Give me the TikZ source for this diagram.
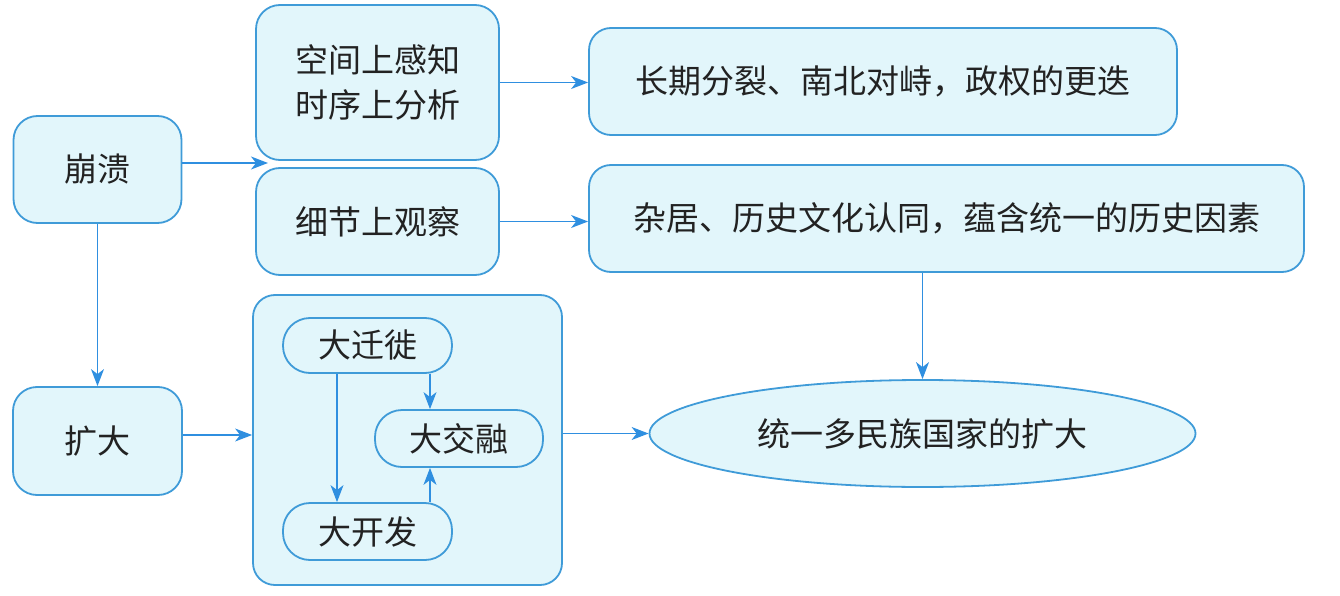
\documentclass[tikz,border=0pt]{standalone}
\usepackage{fontspec}
\setmainfont{Noto Sans CJK SC}
\usetikzlibrary{arrows.meta,shapes.geometric,calc}
\definecolor{bord}{HTML}{3F9BD8}
\definecolor{boxfill}{HTML}{E2F6FB}
\definecolor{arrc}{HTML}{2F8FE0}
\definecolor{txt}{HTML}{222222}
\tikzset{
  box/.style={draw=bord, line width=1.8pt, fill=boxfill, rounded corners=24pt,
    font=\fontsize{33}{45}\selectfont, text=txt, inner sep=0pt, align=center},
  pill/.style={box, rounded corners=27pt, fill=boxfill},
  oval/.style={draw=bord, line width=1.8pt, fill=boxfill, ellipse, inner sep=0pt,
    font=\fontsize{33}{45}\selectfont, text=txt},
  arr/.style={draw=arrc, line width=1.3pt, -{Stealth[length=17pt,width=13pt,inset=5pt]}},
}
\begin{document}
\begin{tikzpicture}[x=1pt,y=-1pt]
\useasboundingbox (0,0) rectangle (1340,596);
\node[box, minimum width=168pt, minimum height=107pt] (bk) at (97.5,169.5) {崩溃};
\node[box, minimum width=243pt, minimum height=155pt] (kj) at (377.5,82.5) {空间上感知\\时序上分析};
\node[box, minimum width=243pt, minimum height=107pt] (xj) at (377.5,221.5) {细节上观察};
\node[box, rounded corners=22pt, minimum width=588pt, minimum height=107pt] (cq) at (883,81.5) {长期分裂、南北对峙，政权的更迭};
\node[box, rounded corners=22pt, minimum width=715pt, minimum height=107pt] (zj) at (946.5,218.5) {杂居、历史文化认同，蕴含统一的历史因素};
\node[box, minimum width=169pt, minimum height=108pt] (kd) at (97.5,441) {扩大};
\node[box, rounded corners=22pt, minimum width=309pt, minimum height=290pt] (big) at (407.5,440) {};
\node[pill, minimum width=169pt, minimum height=55pt] (dq) at (367.5,345.5) {大迁徙};
\node[pill, minimum width=168pt, minimum height=57pt] (dj) at (459,438.5) {大交融};
\node[pill, minimum width=169pt, minimum height=57pt] (dk) at (367.5,531.5) {大开发};
\node[oval, minimum width=546pt, minimum height=107pt] (el) at (922.5,433.5) {统一多民族国家的扩大};
\coordinate (gap) at (268,163);
\coordinate (ax) at (430,0);
\coordinate (bx) at (337,0);
\draw[arr] (bk.east |- gap) -- (gap);
\draw[arr] (kj.east) -- (kj.east -| cq.west);
\draw[arr] (xj.east) -- (xj.east -| zj.west);
\draw[arr] (bk.south) -- (kd.north);
\draw[arr] ($(kd.east)+(0,-6)$) -- ($(kd.east -| big.west)+(0,-6)$);
\draw[arr] (big.east |- el.west) -- (el.west);
\draw[arr] (el.north |- zj.south) -- (el.north);
\draw[arr] (dq.south -| bx) -- (dk.north -| bx);
\draw[arr] (dq.south -| ax) -- (dj.north -| ax);
\draw[arr] (dk.north -| ax) -- (dj.south -| ax);
\end{tikzpicture}
\end{document}
